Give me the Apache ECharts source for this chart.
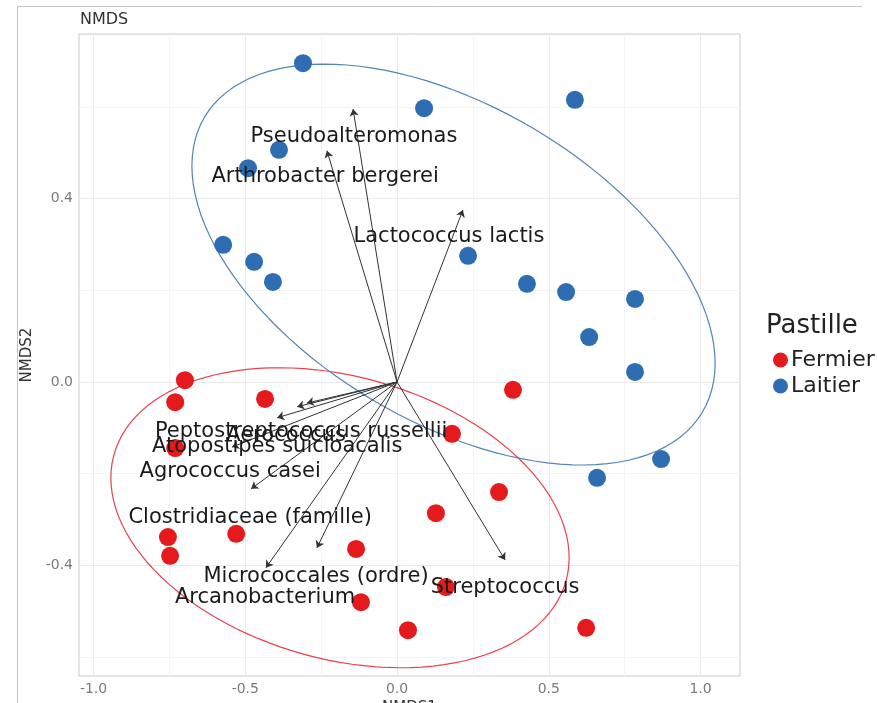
<!DOCTYPE html>
<html><head><meta charset="utf-8">
<script src="https://cdn.jsdelivr.net/npm/echarts@6/dist/echarts.min.js"></script>
<style>html,body{margin:0;padding:0;background:#fff}#c{width:877px;height:703px}</style>
</head><body><div id="c"></div>
<script>
// ---- data ----
const groups = ['Fermier', 'Laitier'];
const fermierX = [-0.699, -0.731, -0.435, 0.382, 0.181, -0.731, 0.336, 0.128, -0.755, -0.530, -0.748, -0.135, 0.161, -0.119, 0.036, 0.623];
const fermierY = [0.004, -0.044, -0.037, -0.017, -0.113, -0.144, -0.240, -0.286, -0.338, -0.331, -0.379, -0.364, -0.447, -0.480, -0.541, -0.536];
const laitierX = [-0.310, 0.089, 0.586, -0.389, -0.491, -0.573, -0.471, -0.409, 0.234, 0.428, 0.557, 0.784, 0.633, 0.784, 0.870, 0.659];
const laitierY = [0.695, 0.597, 0.615, 0.506, 0.466, 0.299, 0.262, 0.218, 0.275, 0.214, 0.196, 0.181, 0.098, 0.022, -0.168, -0.209];

const taxa = ['Pseudoalteromonas', 'Arthrobacter bergerei', 'Lactococcus lactis', 'Peptostreptococcus russellii', 'Aerococcus', 'Atopostipes suicloacalis', 'Agrococcus casei', 'Clostridiaceae (famille)', 'Micrococcales (ordre)', 'Arcanobacterium', 'Streptococcus'];
const arrowX = [-0.145, -0.231, 0.217, -0.297, -0.329, -0.395, -0.544, -0.481, -0.264, -0.432, 0.356];
const arrowY = [0.595, 0.504, 0.375, -0.046, -0.054, -0.078, -0.142, -0.233, -0.362, -0.405, -0.388];
const labelX = [-0.142, -0.237, 0.171, -0.316, -0.366, -0.395, -0.550, -0.484, -0.267, -0.435, 0.356];
const labelY = [0.536, 0.447, 0.316, -0.107, -0.116, -0.140, -0.196, -0.296, -0.425, -0.469, -0.449];

// ellipse parameters (data units): centre x, centre y, x half-extent, y half-extent, y offset at rightmost point
const ellipseFermier = [-0.188, -0.296, 0.755, 0.327, -0.087];
const ellipseLaitier = [0.186, 0.256, 0.862, 0.437, -0.215];

const xTicks = [-1.0, -0.5, 0.0, 0.5, 1.0];
const yTicks = [-0.4, 0.0, 0.4];
const xMinor = [-0.75, -0.25, 0.25, 0.75];
const yMinor = [-0.6, -0.2, 0.2, 0.6];

// ---- build ----
const RED = '#E41A1C', BLUE = '#2F6DB3';
function ellipsePts(p) {
  const [cx, cy, hw, hh, dy] = p;
  const c = Math.sqrt(hh * hh - dy * dy);
  const out = [];
  for (let i = 0; i <= 120; i++) {
    const t = i / 120 * Math.PI * 2;
    out.push([cx + hw * Math.cos(t), cy + dy * Math.cos(t) + c * Math.sin(t)]);
  }
  return out;
}
const zip = (a, b) => a.map((v, i) => [v, b[i]]);
const FONT = 'DejaVu Sans';

const gridLines = [];
xTicks.forEach(v => gridLines.push({ xAxis: v, lineStyle: { color: '#e9e9e9', width: 1, type: 'solid' } }));
xMinor.forEach(v => gridLines.push({ xAxis: v, lineStyle: { color: '#f4f4f4', width: 1, type: 'solid' } }));
yTicks.forEach(v => gridLines.push({ yAxis: v, lineStyle: { color: '#e9e9e9', width: 1, type: 'solid' } }));
yMinor.forEach(v => gridLines.push({ yAxis: v, lineStyle: { color: '#f4f4f4', width: 1, type: 'solid' } }));

const chart = echarts.init(document.getElementById('c'), null, { renderer: 'canvas' });
chart.setOption({
  animation: false,
  backgroundColor: '#fff',
  grid: { left: 79, right: 137, top: 34, bottom: 27, containLabel: false, outerBoundsMode: 'none', show: true, borderColor: '#c9c9c9', borderWidth: 1, backgroundColor: '#fff' },
  xAxis: {
    type: 'value', min: -1.048, max: 1.130,
    name: 'NMDS1', nameLocation: 'middle', nameGap: 20,
    nameTextStyle: { fontFamily: FONT, fontSize: 15, color: '#333' },
    axisLine: { show: false }, splitLine: { show: false },
    axisTick: { show: true, length: 4, lineStyle: { color: '#999' }, customValues: xTicks },
    axisLabel: { customValues: xTicks, formatter: v => v.toFixed(1), fontFamily: FONT, fontSize: 14, color: '#7a7a7a', margin: 6 }
  },
  yAxis: {
    type: 'value', min: -0.641, max: 0.7586,
    name: 'NMDS2', nameLocation: 'middle', nameGap: 40, nameRotate: 90,
    nameTextStyle: { fontFamily: FONT, fontSize: 15, color: '#333' },
    axisLine: { show: false }, splitLine: { show: false },
    axisTick: { show: true, length: 4, lineStyle: { color: '#999' }, customValues: yTicks },
    axisLabel: { customValues: yTicks, formatter: v => v.toFixed(1), fontFamily: FONT, fontSize: 14, color: '#7a7a7a', margin: 6 }
  },
  legend: {
    data: groups, orient: 'vertical', left: 768, top: 344, itemWidth: 15, itemHeight: 15, itemGap: 4,
    icon: 'circle', textStyle: { fontFamily: FONT, fontSize: 22, color: '#222', padding: [0, 0, 0, -2] }
  },
  graphic: [
    { type: 'text', left: 80, top: 12, style: { text: 'NMDS', font: '16px "DejaVu Sans"', fill: '#333' } },
    { type: 'text', left: 766, top: 313, style: { text: 'Pastille', font: '26px "DejaVu Sans"', fill: '#222' } },
    { type: 'line', shape: { x1: 17, y1: 6.5, x2: 862, y2: 6.5 }, style: { stroke: '#c4c4c4', lineWidth: 1 } },
    { type: 'line', shape: { x1: 17.5, y1: 6, x2: 17.5, y2: 703 }, style: { stroke: '#c4c4c4', lineWidth: 1 } }
  ],
  series: [
    { type: 'line', data: [], markLine: { silent: true, symbol: 'none', label: { show: false }, data: gridLines }, z: 0 },
    { type: 'line', data: ellipsePts(ellipseFermier), showSymbol: false, lineStyle: { color: '#E8424F', width: 1.2 }, z: 10, silent: true },
    { type: 'line', data: ellipsePts(ellipseLaitier), showSymbol: false, lineStyle: { color: '#5583B3', width: 1.2 }, z: 10, silent: true },
    { name: 'Fermier', type: 'scatter', data: zip(fermierX, fermierY), symbolSize: 18, itemStyle: { color: RED, opacity: 1 }, z: 11 },
    { name: 'Laitier', type: 'scatter', data: zip(laitierX, laitierY), symbolSize: 18, itemStyle: { color: BLUE, opacity: 1 }, z: 11 },
    {
      type: 'lines', coordinateSystem: 'cartesian2d', z: 12,
      symbol: ['none', 'arrow'], symbolSize: [5, 7],
      lineStyle: { color: '#333', width: 1, opacity: 1 },
      data: arrowX.map((x, i) => ({ coords: [[0, 0], [x, arrowY[i]]] }))
    },
    {
      type: 'scatter', z: 13, symbolSize: 0, silent: true,
      itemStyle: { opacity: 1, color: 'rgba(0,0,0,0)' },
      data: taxa.map((t, i) => ({ name: t, value: [labelX[i], labelY[i]] })),
      label: { show: true, position: 'inside', formatter: p => p.name, fontFamily: FONT, fontSize: 21, color: '#1a1a1a', opacity: 1, textBorderWidth: 0, textShadowBlur: 0 }
    }
  ]
});
</script></body></html>
